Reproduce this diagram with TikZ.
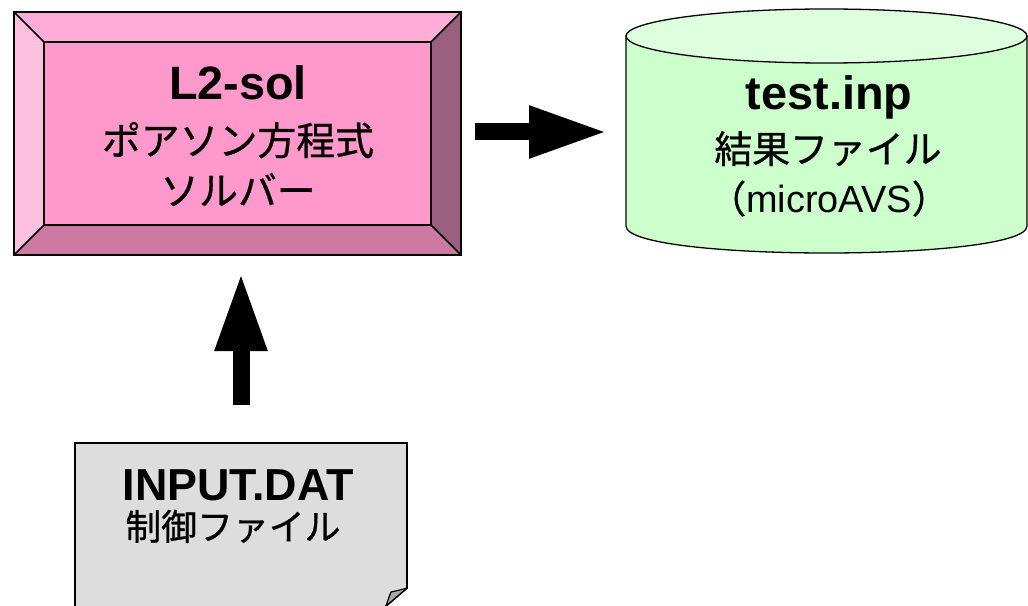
\documentclass[tikz,border=0pt]{standalone}
\usepackage{fontspec}
\setmainfont{Liberation Sans}
\newfontfamily\jp[FakeBold=0.8]{Noto Sans CJK JP}
\usetikzlibrary{arrows.meta}
\definecolor{pkTop}{HTML}{FFADD6}
\definecolor{pkLeft}{HTML}{FFBFDF}
\definecolor{pkMid}{HTML}{FF99CC}
\definecolor{pkRight}{HTML}{99607F}
\definecolor{pkBot}{HTML}{CC7AA3}
\definecolor{gnBody}{HTML}{CCFFCC}
\definecolor{gnTop}{HTML}{DEFFDE}
\definecolor{docFill}{HTML}{DDDDDD}
\definecolor{docFold}{HTML}{A8A8A8}
\begin{document}
\begin{tikzpicture}[x=1bp,y=-1bp,
  ttl/.style={font=\fontsize{47}{50}\selectfont\bfseries, inner sep=0pt},
  jpt/.style={font=\fontsize{39}{42}\selectfont\jp, inner sep=0pt},
  shapebox/.style={inner sep=0pt, outer sep=0pt},
  bevel/.style={draw=black, line width=1.5bp, line join=miter},
  blockarrow/.style={draw=black, line width=17bp, -{Triangle[length=79bp, width=48bp]}}
]
\useasboundingbox (0,0) rectangle (1028,606);

% ---- bevel box ----
\node[shapebox, minimum width=447bp, minimum height=243bp] (box) at (237.5,133.5) {};
\fill[pkTop] (14,12) -- (461,12) -- (431,42) -- (44,42) -- cycle;
\fill[pkLeft] (14,12) -- (44,42) -- (44,225) -- (14,255) -- cycle;
\fill[pkRight] (461,12) -- (461,255) -- (431,225) -- (431,42) -- cycle;
\fill[pkBot] (14,255) -- (44,225) -- (431,225) -- (461,255) -- cycle;
\fill[pkMid] (44,42) rectangle (431,225);
\draw[bevel] (44,42) rectangle (431,225);
\draw[bevel] (14,12) -- (44,42) (461,12) -- (431,42) (461,255) -- (431,225) (14,255) -- (44,225);
\draw[draw=black, line width=2bp] (14,12) rectangle (461,255);
\node[ttl, anchor=base] (boxT) at (238,100) {L2-sol};
\node[jpt, anchor=base] (boxJ1) at (238,155) {ポアソン方程式};
\node[jpt, anchor=base] (boxJ2) at (238,205) {ソルバー};

% ---- cylinder ----
\node[shapebox, minimum width=401bp, minimum height=245bp] (cyl) at (826.5,131) {};
\filldraw[fill=gnBody, draw=black, line width=1.3bp]
  (626,36) -- (626,226) .. controls (626,262) and (1027,262) .. (1027,226) -- (1027,36) -- cycle;
\filldraw[fill=gnTop, draw=black, line width=1.3bp] (826.5,36) ellipse [x radius=200.5, y radius=27];
\node[ttl, anchor=base] (cylT) at (829,110) {test.inp};
\node[jpt, font=\fontsize{38}{40}\selectfont\jp, anchor=base] (cylJ1) at (828,163) {結果ファイル};
\node[jpt, font=\fontsize{38}{40}\selectfont, anchor=base] (cylJ2) at (829,213) {{\jp （}microAVS{\jp ）}};

% ---- document ----
\node[shapebox, minimum width=332bp, minimum height=163bp] (doc) at (241,524.5) {};
\filldraw[fill=docFill, draw=black, line width=1.8bp, line join=miter]
  (75,612) -- (75,443) -- (407,443) -- (407,588) -- (386,606) -- (386,612);
\filldraw[fill=docFold, draw=black, line width=1.2bp, line join=round]
  (407,588) .. controls (400,590) .. (391,592) .. controls (389,597) .. (386,606) -- cycle;
\node[ttl, font=\fontsize{45}{48}\selectfont\bfseries, anchor=base] (docT) at (238,500) {INPUT.DAT};
\node[jpt, font=\fontsize{36}{40}\selectfont\jp, anchor=base] (docJ) at (233,540) {制御ファイル};

% ---- connectors ----
\draw[blockarrow, shorten <=14bp, shorten >=18bp] (box.east |- 0,132) -- (cyl.west |- 0,132);
\draw[blockarrow, shorten <=38bp, shorten >=17bp] (doc.north) -- (doc.north |- box.south);
\end{tikzpicture}
\end{document}
